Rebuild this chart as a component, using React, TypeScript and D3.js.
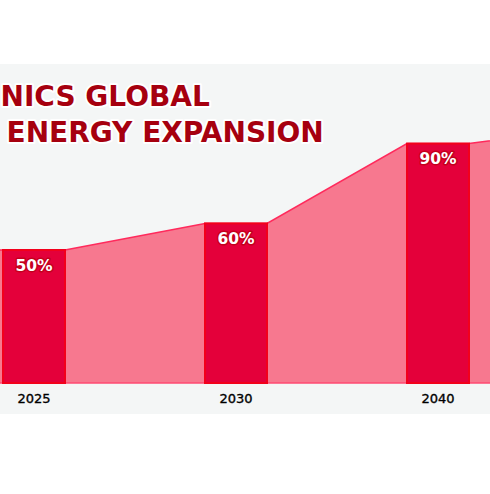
import * as d3 from "d3";

// chart data (the view is a crop of a wider chart, edge categories sit off-screen)
const categories = ["2020", "2025", "2030", "2040", "2050"];
const shares = [48, 50, 60, 90, 97];
const valueLabels = ["48%", "50%", "60%", "90%", "97%"];
const titleLines = ["NICS GLOBAL", "ENERGY EXPANSION"];

const W = 490;
const H = 494;
const barWidth = 62;

export default function App() {
  // category centres, one step = 202px
  const x = d3
    .scalePoint<string>()
    .domain(categories)
    .range([-168, -168 + 202 * (categories.length - 1)]);
  const y = d3.scaleLinear().domain([0, 100]).range([383, 117]);

  const pts: [number, number][] = [];
  categories.forEach((c, i) => {
    const cx = x(c) as number;
    pts.push([cx - barWidth / 2, shares[i]]);
    pts.push([cx + barWidth / 2, shares[i]]);
  });

  const area = d3
    .area<[number, number]>()
    .x((d) => d[0])
    .y0(y(0))
    .y1((d) => y(d[1]));
  const line = d3
    .line<[number, number]>()
    .x((d) => d[0])
    .y((d) => y(d[1]));

  // only label the categories that fall inside the view
  const shown = categories
    .map((c, i) => ({ c, i, cx: x(c) as number }))
    .filter((d) => d.cx > 0 && d.cx < W);

  return (
    <div style={{ position: "fixed", left: 0, top: 0, width: W, height: H, background: "#fff" }}>
      <svg width={W} height={H} style={{ display: "block" }}>
        {/* panel */}
        <rect x={0} y={64} width={W} height={350} fill="#f4f6f6" />

        {/* title */}
        <g
          fontFamily="DejaVu Sans, Verdana, sans-serif"
          fontWeight="bold"
          fontSize={28}
          fill="#a6000f"
          stroke="#ffffff"
          strokeWidth={4}
          strokeLinejoin="round"
          style={{ paintOrder: "stroke" }}
        >
          <text x={0.5} y={106}>{titleLines[0]}</text>
          <text x={6.5} y={142}>{titleLines[1]}</text>
        </g>

        {/* area between bars */}
        <path d={area(pts) || ""} fill="#f7788f" />
        <path d={line(pts) || ""} fill="none" stroke="#ff2a5c" strokeWidth={1.5} />
        <line x1={0} x2={W} y1={y(0)} y2={y(0)} stroke="#ff4a72" strokeWidth={1.5} />

        {/* bars */}
        {categories.map((c, i) => {
          const cx = x(c) as number;
          return (
            <rect
              key={c}
              x={cx - barWidth / 2}
              y={y(shares[i])}
              width={barWidth}
              height={y(0) - y(shares[i])}
              fill="#e4003a"
              stroke="#f2001c"
              strokeWidth={2}
            />
          );
        })}

        {/* value labels */}
        {shown.map(({ c, i, cx }) => (
          <text
            key={c}
            x={cx}
            y={y(shares[i]) + 20.5}
            textAnchor="middle"
            fontFamily="DejaVu Sans, Verdana, sans-serif"
            fontWeight="bold"
            fontSize={15.5}
            fill="#ffffff"
            stroke="#c4001c"
            strokeWidth={3}
            strokeLinejoin="round"
            style={{ paintOrder: "stroke" }}
          >
            {valueLabels[i]}
          </text>
        ))}

        {/* category labels */}
        {shown.map(({ c, cx }) => (
          <text
            key={c}
            x={cx}
            y={403}
            textAnchor="middle"
            fontFamily="DejaVu Sans, Verdana, sans-serif"
            fontSize={13}
            fill="#000"
            stroke="#000"
            strokeWidth={0.35}
          >
            {c}
          </text>
        ))}
      </svg>
    </div>
  );
}
